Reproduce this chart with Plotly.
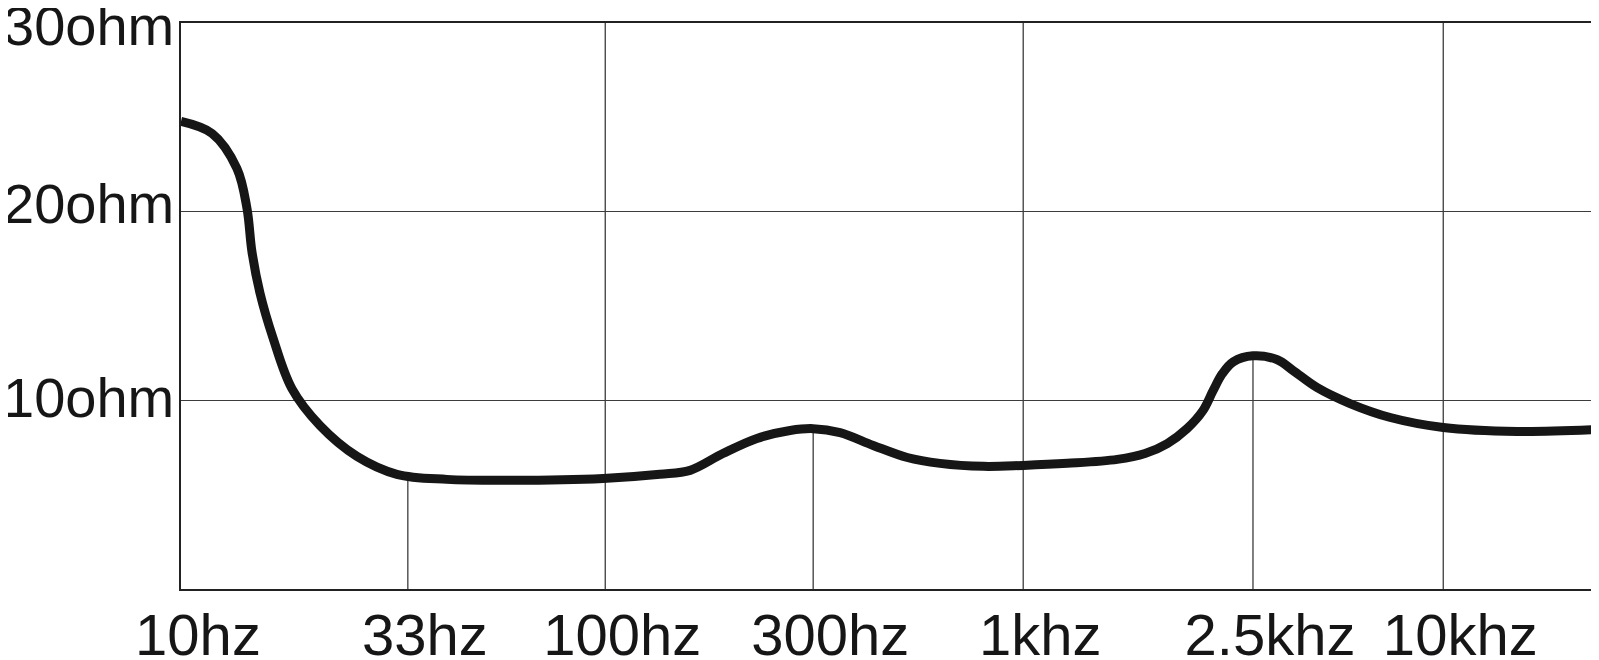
import numpy as np
import plotly.graph_objects as go

# Axis labels and their positions along the (schematic) frequency axis
FREQ_LABELS = ["10hz", "33hz", "100hz", "300hz", "1khz", "2.5khz", "10khz"]
FREQ_POS = [0.0, 0.54, 1.01, 1.505, 2.005, 2.552, 3.005]
FULL_GRID = ["100hz", "1khz", "10khz"]
DROP_LINES = ["33hz", "300hz", "2.5khz"]
X_MAX = 3.371

OHM_TICKS = [10, 20, 30]
OHM_LABELS = ["10ohm", "20ohm", "30ohm"]

# Impedance curve (position on frequency axis, ohms)
curve_x = [0.000, 0.074, 0.133, 0.157, 0.169, 0.188, 0.219, 0.264, 0.331, 0.419,
           0.514, 0.633, 0.790, 1.005, 1.140, 1.212, 1.290, 1.371, 1.450, 1.505,
           1.569, 1.648, 1.729, 1.807, 1.910, 2.005, 2.110, 2.229, 2.295, 2.348,
           2.395, 2.433, 2.457, 2.479, 2.505, 2.552, 2.610, 2.648, 2.705, 2.783,
           2.879, 3.005, 3.181, 3.371]
curve_ohm = [24.78, 24.14, 22.29, 20.18, 17.86, 15.69, 13.31, 10.62, 8.66, 7.03,
             6.08, 5.81, 5.76, 5.86, 6.08, 6.29, 7.18, 7.98, 8.40, 8.50,
             8.29, 7.61, 6.97, 6.66, 6.50, 6.55, 6.66, 6.87, 7.18, 7.71,
             8.50, 9.46, 10.51, 11.41, 12.04, 12.36, 12.15, 11.57, 10.67, 9.83,
             9.09, 8.56, 8.35, 8.45]

# small vertical pixel nudges of the ohm labels, as in the original drawing
OHM_LABEL_NUDGE = [3, 8, -2]

pos = dict(zip(FREQ_LABELS, FREQ_POS))
GRID_COLOR = "#3c3c3c"
TEXT_COLOR = "#161616"
FONT = "Liberation Sans, Arial, sans-serif"

fig = go.Figure()
fig.add_trace(go.Scatter(
    x=curve_x, y=curve_ohm, mode="lines",
    line=dict(color="#161616", width=9, shape="spline", smoothing=1.0),
    hoverinfo="skip", showlegend=False,
))

shapes = []
for lab in FULL_GRID:
    shapes.append(dict(type="line", xref="x", yref="y", x0=pos[lab], x1=pos[lab],
                       y0=0, y1=30, layer="below",
                       line=dict(color=GRID_COLOR, width=1.3)))
for lab in DROP_LINES:
    top = float(np.interp(pos[lab], curve_x, curve_ohm))
    shapes.append(dict(type="line", xref="x", yref="y", x0=pos[lab], x1=pos[lab],
                       y0=0, y1=top, layer="below",
                       line=dict(color=GRID_COLOR, width=1.3)))

annotations = []
for val, lab, nudge in zip(OHM_TICKS, OHM_LABELS, OHM_LABEL_NUDGE):
    annotations.append(dict(
        xref="paper", yref="y", x=0, y=val, text=lab, showarrow=False,
        xanchor="right", yanchor="middle", xshift=-5, yshift=nudge,
        font=dict(size=56, family=FONT, color=TEXT_COLOR),
    ))

# the page body has a small default margin, so the figure is sized to fit inside it
fig.update_layout(
    width=1591, height=652,
    margin=dict(l=173, r=2, t=15, b=71),
    paper_bgcolor="white", plot_bgcolor="white",
    shapes=shapes, annotations=annotations,
    font=dict(family=FONT, color=TEXT_COLOR),
    xaxis=dict(
        range=[0, X_MAX], tickmode="array", tickvals=FREQ_POS, ticktext=FREQ_LABELS,
        showgrid=False, zeroline=False, ticks="", automargin=False,
        showline=True, linecolor="#222222", linewidth=2, mirror=True,
        tickfont=dict(size=58, family=FONT, color=TEXT_COLOR),
        ticklabelshift=17, ticklabelstandoff=-6, ticklabeloverflow="allow",
    ),
    yaxis=dict(
        range=[0, 30], tickmode="array", tickvals=OHM_TICKS, showticklabels=False,
        showgrid=True, gridcolor=GRID_COLOR, gridwidth=1.3, zeroline=False, ticks="",
        showline=True, linecolor="#222222", linewidth=2, mirror=True, automargin=False,
    ),
)

fig.write_html("out.html")
